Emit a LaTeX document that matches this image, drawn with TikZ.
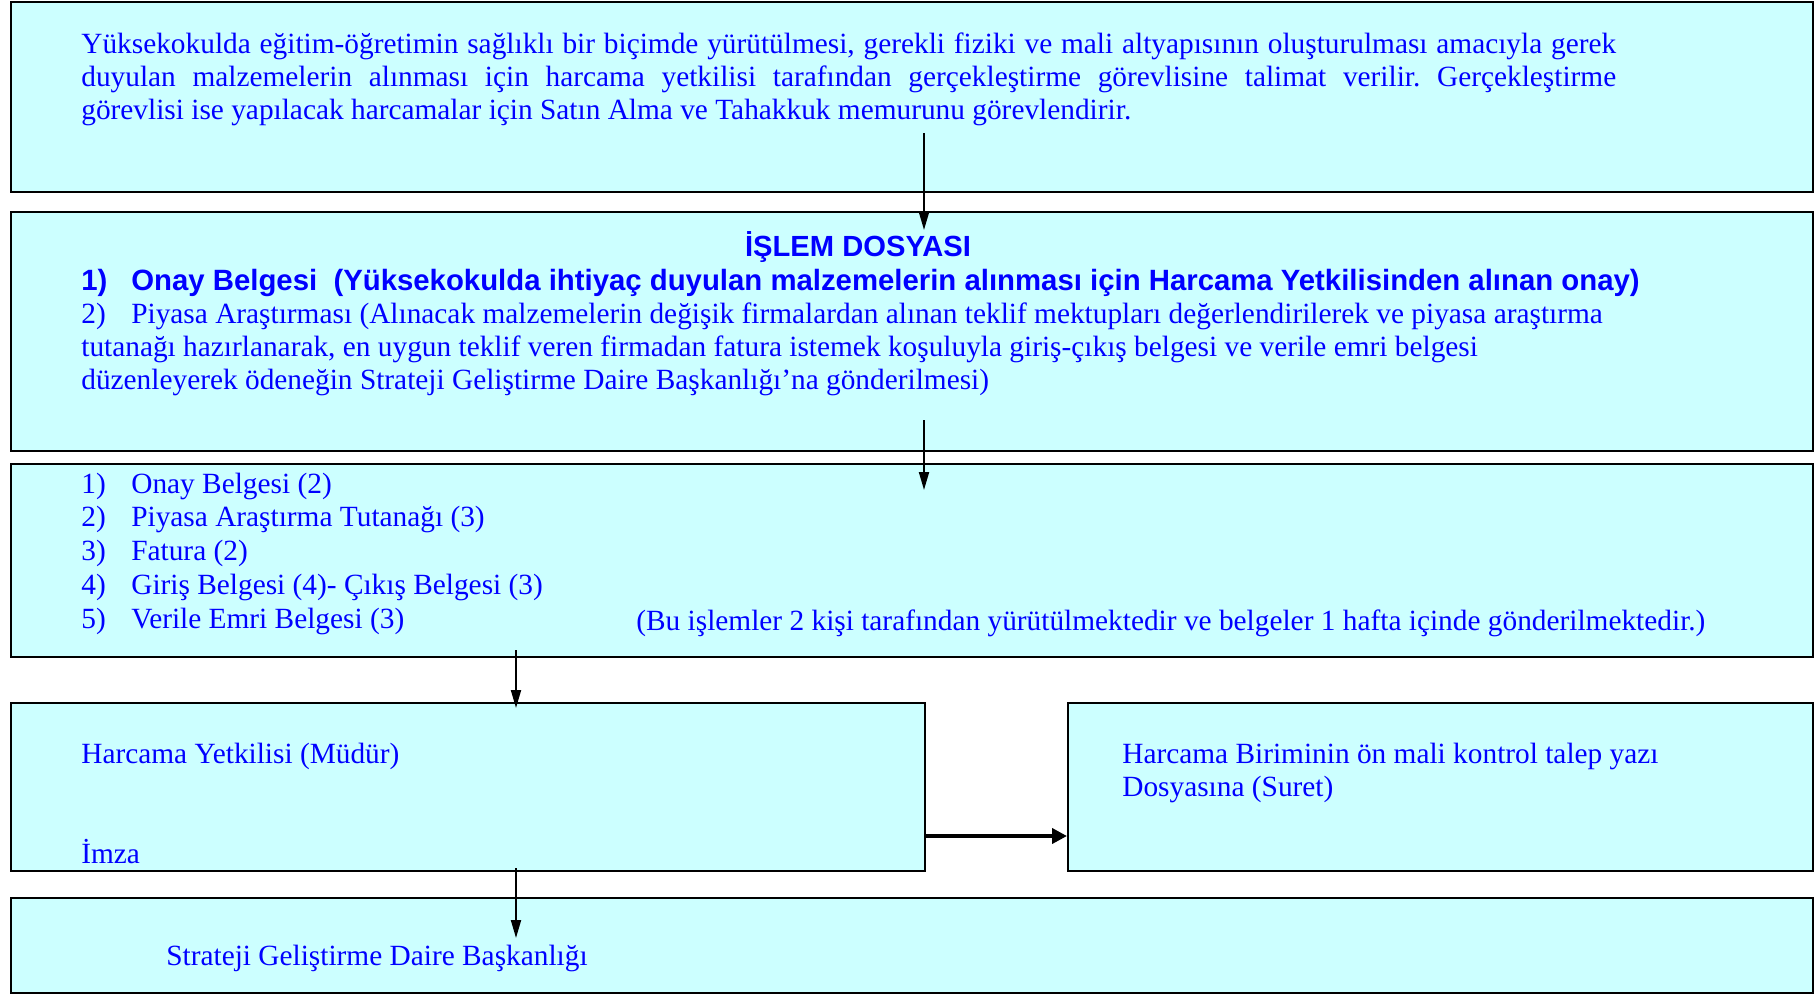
\documentclass[tikz,border=0pt]{standalone}
\usepackage{fontspec}
\setmainfont{Liberation Serif}
\setsansfont{Liberation Sans}
\usetikzlibrary{arrows.meta}
\definecolor{boxfill}{HTML}{CCFFFF}
\tikzset{
  box/.style={draw=black, line width=1.2pt, fill=boxfill, inner sep=0pt},
  txt/.style={text=blue, inner sep=0pt, anchor=base west,
    font=\fontsize{16.7}{18.8}\selectfont,
    execute at begin node={\spaceskip=0pt\xspaceskip=0pt\frenchspacing}},
  flow/.style={line width=1.1pt, -{Triangle[length=0.36cm, width=0.2cm]}},
  thickflow/.style={line width=2.2pt, -{Triangle[length=0.3cm, width=0.3cm]}}
}
\newcommand{\nr}[1]{\makebox[1cm][l]{#1}}
\newcommand{\fullline}[1]{\makebox[30.7cm][s]{#1}}

\begin{document}
\begin{tikzpicture}[x=0.02cm, y=-0.02cm]
\useasboundingbox (0,0) rectangle (1816,994);
\node[box, minimum width=36.04cm, minimum height=3.8cm] (talimat) at (912,97) {};
\node[box, minimum width=36.04cm, minimum height=4.78cm] (dosya) at (912,331.5) {};
\node[box, minimum width=36.04cm, minimum height=3.86cm] (belgeler) at (912,560.5) {};
\node[box, minimum width=18.28cm, minimum height=3.36cm] (yetkili) at (468,787) {};
\node[box, minimum width=14.9cm, minimum height=3.36cm] (suret) at (1440.5,787) {};
\node[box, minimum width=36.04cm, minimum height=1.9cm] (sgdb) at (912,945.5) {};

\node[txt, text width=34cm] (talimattxt) at (81,53) {\fullline{Yüksekokulda eğitim-öğretimin sağlıklı bir biçimde yürütülmesi, gerekli fiziki ve mali altyapısının oluşturulması amacıyla gerek}\\
\fullline{duyulan malzemelerin alınması için harcama yetkilisi tarafından gerçekleştirme görevlisine talimat verilir. Gerçekleştirme}\\
görevlisi ise yapılacak harcamalar için Satın Alma ve Tahakkuk memurunu görevlendirir.};

\node[txt, anchor=base, font=\sffamily\bfseries\fontsize{16.6}{18.8}\selectfont] (baslik) at (858,256) {İŞLEM DOSYASI};
\node[txt, font=\sffamily\bfseries\fontsize{16.7}{18.8}\selectfont] (onay) at (81,290) {\nr{1)}Onay Belgesi\ \ (Yüksekokulda ihtiyaç duyulan malzemelerin alınması için Harcama Yetkilisinden alınan onay)};
\node[txt, text width=34cm] (piyasa) at (81,323) {\nr{2)}Piyasa Araştırması (Alınacak malzemelerin değişik firmalardan alınan teklif mektupları değerlendirilerek ve piyasa araştırma\\
tutanağı hazırlanarak, en uygun teklif veren firmadan fatura istemek koşuluyla giriş-çıkış belgesi ve verile emri belgesi\\
düzenleyerek ödeneğin Strateji Geliştirme Daire Başkanlığı’na gönderilmesi)};

\node[txt, text width=20cm, font=\fontsize{16.7}{19.3}\selectfont] (liste) at (81,493) {\nr{1)}Onay Belgesi (2)\\
\nr{2)}Piyasa Araştırma Tutanağı (3)\\
\nr{3)}Fatura (2)\\
\nr{4)}Giriş Belgesi (4)- Çıkış Belgesi (3)\\
\nr{5)}Verile Emri Belgesi (3)};
\node[txt] (not) at (636,630) {(Bu işlemler 2 kişi tarafından yürütülmektedir ve belgeler 1 hafta içinde gönderilmektedir.)};

\node[txt] (mudur) at (81,763) {Harcama Yetkilisi (Müdür)};
\node[txt] (imza) at (81,863) {İmza};
\node[txt, text width=13cm, font=\fontsize{16.7}{19.3}\selectfont] (surettxt) at (1122,763) {Harcama Biriminin ön mali kontrol talep yazı\\
Dosyasına (Suret)};
\node[txt] (sgdbtxt) at (166,965) {Strateji Geliştirme Daire Başkanlığı};

\coordinate (a1) at (924,133);
\coordinate (b1) at (924,230);
\coordinate (a2) at (924,420);
\coordinate (b2) at (924,490);
\coordinate (a3) at (516,650);
\coordinate (b3) at (516,708);
\coordinate (a4) at (516,868);
\coordinate (b4) at (516,938);
\draw[flow] (a1) -- (b1);
\draw[flow] (a2) -- (b2);
\draw[flow] (a3) -- (b3);
\draw[flow] (a4) -- (b4);
\draw[thickflow] (yetkili.east |- 0,836) -- (suret.west |- 0,836);
\end{tikzpicture}
\end{document}
